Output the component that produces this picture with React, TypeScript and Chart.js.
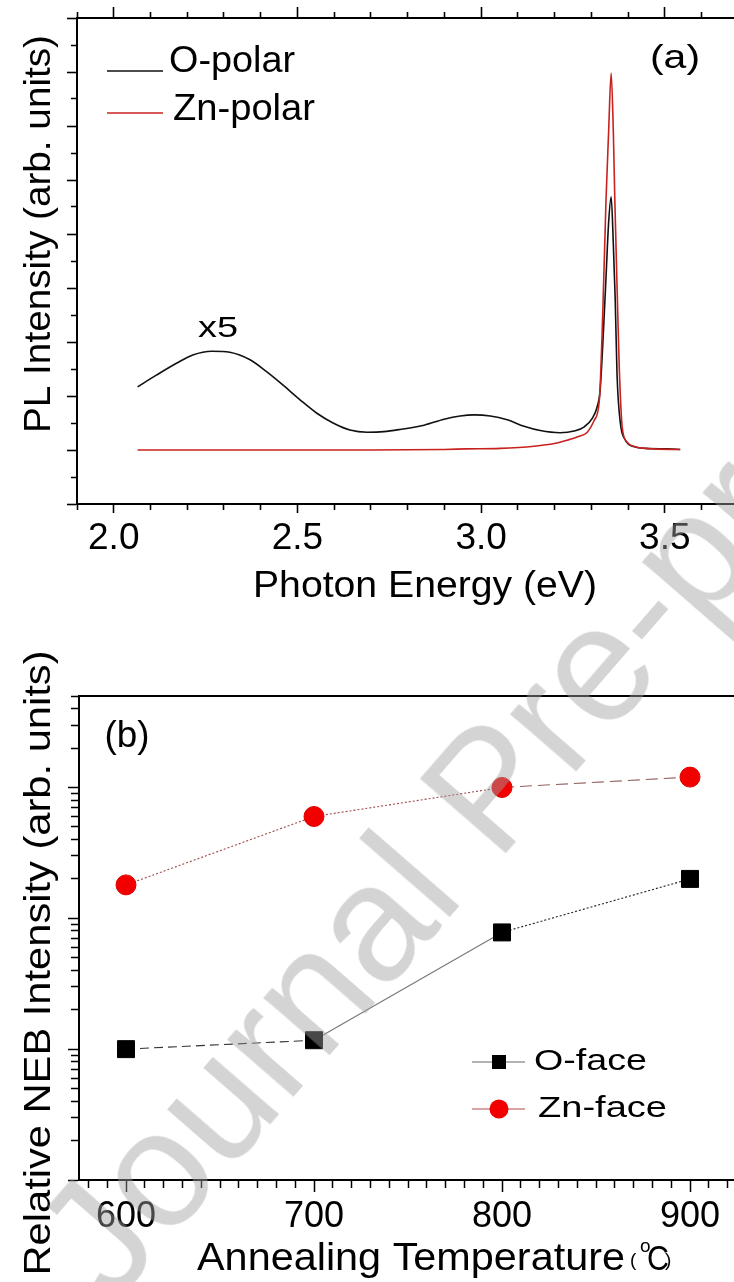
import React, { useEffect, useRef } from "react";
import { Chart, registerables } from "chart.js";

Chart.register(...registerables);

// (a) room-temperature PL spectra: photon energy (eV) vs intensity (arb. units)
const oPolarEnergy = [2.065, 2.117, 2.172, 2.215, 2.267, 2.316, 2.371, 2.416, 2.461, 2.507, 2.553, 2.597, 2.643, 2.69, 2.735, 2.779, 2.845, 2.899, 2.943, 2.981, 3.025, 3.071, 3.117, 3.161, 3.215, 3.253, 3.281, 3.303, 3.316, 3.324, 3.333, 3.34, 3.347, 3.354, 3.36, 3.365, 3.37, 3.379, 3.392, 3.417, 3.45, 3.507, 3.542];
const oPolarIntensity = [1.17, 1.39, 1.61, 1.76, 1.83, 1.81, 1.67, 1.45, 1.2, 0.93, 0.68, 0.5, 0.37, 0.33, 0.34, 0.38, 0.46, 0.57, 0.63, 0.65, 0.63, 0.56, 0.44, 0.36, 0.32, 0.35, 0.43, 0.59, 0.8, 1.11, 2.2, 3.2, 4.2, 4.69, 3.8, 2.8, 1.4, 0.5, 0.19, 0.06, 0.03, 0.02, 0.01];
const znPolarEnergy = [2.065, 2.3, 2.5, 2.7, 2.9, 2.96, 3.052, 3.144, 3.2, 3.234, 3.265, 3.289, 3.308, 3.322, 3.331, 3.34, 3.347, 3.354, 3.36, 3.364, 3.371, 3.376, 3.384, 3.397, 3.415, 3.433, 3.47, 3.542];
const znPolarIntensity = [0, 0, 0, 0, 0.01, 0.02, 0.03, 0.07, 0.12, 0.18, 0.25, 0.33, 0.55, 0.93, 2.5, 4.63, 5.87, 6.98, 5.87, 4.63, 2.78, 1.54, 0.43, 0.15, 0.07, 0.04, 0.02, 0.01];
const spectraSeries = ["O-polar", "Zn-polar"];
const energyLabels = ["2.0", "2.5", "3.0", "3.5"];

// (b) relative NEB intensity vs annealing temperature (°C), log axis
const annealTemps = [600, 700, 800, 900];
const oFaceNeb = [1.0, 1.17, 7.8, 20];
const znFaceNeb = [18, 60, 100, 120];
const faceSeries = ["O-face", "Zn-face"];
const tempLabels = ["600", "700", "800", "900"];

const SANS = '"Liberation Sans", Arial, Helvetica, sans-serif';

type TextOpts = {
  size: number;
  width?: number;
  align?: CanvasTextAlign;
  rotate?: number;
  color?: string;
};

// Draws a string, optionally stretched along its direction to a given length.
function drawText(ctx: CanvasRenderingContext2D, text: string, x: number, y: number, o: TextOpts) {
  ctx.save();
  ctx.font = `${o.size}px ${SANS}`;
  const natural = ctx.measureText(text).width;
  const sx = o.width ? o.width / natural : 1;
  ctx.translate(x, y);
  if (o.rotate) ctx.rotate(o.rotate);
  ctx.scale(sx, 1);
  ctx.textAlign = o.align ?? "left";
  ctx.textBaseline = "alphabetic";
  ctx.fillStyle = o.color ?? "#000";
  ctx.fillText(text, 0, 0);
  ctx.restore();
}

const near = (a: number, b: number) => Math.abs(a - b) < 1e-6;
const isHalfStep = (v: number) => near(v * 2, Math.round(v * 2));
const isDecade = (v: number) => near(Math.log10(v), Math.round(Math.log10(v)));

// minor tick marks are drawn as the axis-side part of a full-length tick
const minorFromOuter = (tl: number, len: number) => [0, tl - 1 - len, len, 300];
const minorFromAxis = (len: number) => [len, 300];

export default function App() {
  const refA = useRef<HTMLCanvasElement>(null);
  const refB = useRef<HTMLCanvasElement>(null);

  useEffect(() => {
    const energyTicks: number[] = [];
    for (let i = 19; i <= 38; i++) energyTicks.push(i / 10);
    const intensityTicks: number[] = [];
    for (let i = -2; i <= 16; i++) intensityTicks.push(i / 2);

    const tempTicks: number[] = [];
    for (let t = 580; t <= 940; t += 10) tempTicks.push(t);
    const nebTicks: number[] = [];
    [0.1, 1, 10, 100].forEach((d) => {
      for (let k = 1; k <= 9; k++) if (d * k <= 500 + 1e-9) nebTicks.push(d * k);
    });

    const colorO = "#111111";
    const colorZn = "#c8221f";

    const decorA = {
      id: "decorA",
      afterDraw(chart: Chart) {
        const ctx = chart.ctx;
        // legend
        const rows = [
          { name: spectraSeries[0], color: colorO, lineY: 71, textX: 169, base: 72, width: 126 },
          { name: spectraSeries[1], color: colorZn, lineY: 113, textX: 173, base: 120, width: 142 },
        ];
        rows.forEach((r) => {
          ctx.save();
          ctx.strokeStyle = r.color;
          ctx.lineWidth = 1.6;
          ctx.beginPath();
          ctx.moveTo(107, r.lineY);
          ctx.lineTo(163, r.lineY);
          ctx.stroke();
          ctx.restore();
          drawText(ctx, r.name, r.textX, r.base, { size: 36, width: r.width });
        });
        drawText(ctx, "(a)", 675, 68, { size: 34, width: 50, align: "center" });
        drawText(ctx, "x5", 218, 337, { size: 30, width: 40, align: "center" });
        // axis titles
        drawText(ctx, "Photon Energy (eV)", 425, 597, { size: 37, width: 344, align: "center" });
        drawText(ctx, "PL Intensity (arb. units)", 50, 234, {
          size: 37,
          width: 398,
          align: "center",
          rotate: -Math.PI / 2,
        });
      },
    };

    const OY = 630; // page offset of the lower canvas
    const decorB = {
      id: "decorB",
      afterDraw(chart: Chart) {
        const ctx = chart.ctx;
        drawText(ctx, "(b)", 127, 747 - OY, { size: 37, width: 45, align: "center" });
        // legend
        ctx.save();
        ctx.lineWidth = 1;
        ctx.strokeStyle = "#666";
        ctx.beginPath();
        ctx.moveTo(472, 1062 - OY);
        ctx.lineTo(525, 1062 - OY);
        ctx.stroke();
        ctx.strokeStyle = "#b04a4a";
        ctx.beginPath();
        ctx.moveTo(472, 1109 - OY);
        ctx.lineTo(525, 1109 - OY);
        ctx.stroke();
        ctx.fillStyle = "#000";
        ctx.fillRect(499 - 7, 1062 - OY - 7, 14, 14);
        ctx.fillStyle = "#f20000";
        ctx.beginPath();
        ctx.arc(499, 1109 - OY, 9.5, 0, Math.PI * 2);
        ctx.fill();
        ctx.restore();
        drawText(ctx, faceSeries[0], 534, 1070 - OY, { size: 30, width: 113 });
        drawText(ctx, faceSeries[1], 538, 1117 - OY, { size: 30, width: 129 });
        // axis titles
        drawText(ctx, "Annealing Temperature", 197, 1270 - OY, { size: 38, width: 428 });
        drawText(ctx, "(", 630, 1266 - OY, { size: 19 });
        drawText(ctx, "o", 640, 1252 - OY, { size: 19 });
        drawText(ctx, "C", 647, 1270 - OY, { size: 35, width: 22 });
        drawText(ctx, ")", 665, 1266 - OY, { size: 19 });
        drawText(ctx, "Relative NEB Intensity (arb. units)", 50, 963 - OY, {
          size: 37,
          width: 625,
          align: "center",
          rotate: -Math.PI / 2,
        });
      },
    };

    const axisBorder = { display: true, color: "#000", width: 2 };

    const chartA = new Chart(refA.current!, {
      type: "line",
      data: {
        datasets: [
          {
            label: spectraSeries[1],
            data: znPolarEnergy.map((e, i) => ({ x: e, y: znPolarIntensity[i] })),
            borderColor: colorZn,
            borderWidth: 1.6,
            pointRadius: 0,
            cubicInterpolationMode: "monotone",
            order: 0,
          },
          {
            label: spectraSeries[0],
            data: oPolarEnergy.map((e, i) => ({ x: e, y: oPolarIntensity[i] })),
            borderColor: colorO,
            borderWidth: 1.6,
            pointRadius: 0,
            cubicInterpolationMode: "monotone",
            order: 1,
          },
        ],
      },
      options: {
        animation: false,
        responsive: false,
        devicePixelRatio: 1,
        events: [],
        layout: { autoPadding: false, padding: { left: 67, top: 7, right: 25, bottom: 64 } },
        plugins: { legend: { display: false }, tooltip: { enabled: false } },
        scales: {
          x: {
            type: "linear",
            position: "bottom",
            min: 1.9,
            max: 3.8,
            afterBuildTicks: (s: any) => {
              s.ticks = energyTicks.map((v) => ({ value: v }));
            },
            afterFit: (s: any) => {
              s.height = 62;
            },
            border: axisBorder,
            grid: {
              display: true,
              drawOnChartArea: false,
              drawTicks: true,
              tickLength: 9,
              tickWidth: 1.6,
              tickColor: "#000",
              tickBorderDash: (c: any) => (isHalfStep(c.tick.value) ? [] : minorFromAxis(5)),
            },
            ticks: {
              autoSkip: false,
              maxRotation: 0,
              minRotation: 0,
              padding: 4,
              color: "#000",
              font: { family: SANS, size: 37 },
              callback: (v: any) => energyLabels.find((l) => near(Number(l), Number(v))) ?? "",
            },
          },
          xTop: {
            type: "linear",
            position: "top",
            min: 1.9,
            max: 3.8,
            afterBuildTicks: (s: any) => {
              s.ticks = energyTicks.map((v) => ({ value: v }));
            },
            afterFit: (s: any) => {
              s.height = 11;
            },
            border: axisBorder,
            grid: {
              display: true,
              drawOnChartArea: false,
              drawTicks: true,
              tickLength: 11,
              tickWidth: 1.6,
              tickColor: "#000",
              tickBorderDash: (c: any) => (isHalfStep(c.tick.value) ? [] : minorFromOuter(11, 5)),
            },
            ticks: { display: false },
          },
          y: {
            type: "linear",
            position: "left",
            min: -1,
            max: 8,
            afterBuildTicks: (s: any) => {
              s.ticks = intensityTicks.map((v) => ({ value: v }));
            },
            afterFit: (s: any) => {
              s.width = 10;
            },
            border: axisBorder,
            grid: {
              display: true,
              drawOnChartArea: false,
              drawTicks: true,
              tickLength: 10,
              tickWidth: 1.6,
              tickColor: "#000",
              tickBorderDash: (c: any) => (Number.isInteger(c.tick.value) ? [] : minorFromOuter(10, 5)),
            },
            ticks: { display: false },
          },
        },
      } as any,
      plugins: [decorA],
    });

    const oSegDash = [[9, 5], [], [2, 2]];
    const oSegColor = ["#333", "#777", "#222"];
    const znSegDash = [[2, 2], [2, 2], [12, 6]];
    const znSegColor = ["#a04848", "#a04848", "#946060"];

    const chartB = new Chart(refB.current!, {
      type: "line",
      data: {
        datasets: [
          {
            label: faceSeries[0],
            data: annealTemps.map((t, i) => ({ x: t, y: oFaceNeb[i] })),
            borderColor: "#555",
            borderWidth: 1.1,
            segment: {
              borderDash: (c: any) => oSegDash[c.p0DataIndex],
              borderColor: (c: any) => oSegColor[c.p0DataIndex],
            },
            pointStyle: "rect",
            pointRadius: 12,
            pointBackgroundColor: "#000",
            pointBorderColor: "#000",
            pointBorderWidth: 1,
          },
          {
            label: faceSeries[1],
            data: annealTemps.map((t, i) => ({ x: t, y: znFaceNeb[i] })),
            borderColor: "#a04848",
            borderWidth: 1.1,
            segment: {
              borderDash: (c: any) => znSegDash[c.p0DataIndex],
              borderColor: (c: any) => znSegColor[c.p0DataIndex],
            },
            pointStyle: "circle",
            pointRadius: 10,
            pointBackgroundColor: "#f20000",
            pointBorderColor: "#e00000",
            pointBorderWidth: 1,
          },
        ],
      },
      options: {
        animation: false,
        responsive: false,
        devicePixelRatio: 1,
        events: [],
        layout: { autoPadding: false, padding: { left: 67, top: 66, right: 36, bottom: 32 } },
        plugins: { legend: { display: false }, tooltip: { enabled: false } },
        scales: {
          x: {
            type: "linear",
            position: "bottom",
            min: 575,
            max: 950,
            afterBuildTicks: (s: any) => {
              s.ticks = tempTicks.map((v) => ({ value: v }));
            },
            afterFit: (s: any) => {
              s.height = 70;
            },
            border: axisBorder,
            grid: {
              display: true,
              drawOnChartArea: false,
              drawTicks: true,
              tickLength: 12,
              tickWidth: 1.5,
              tickColor: "#000",
              tickBorderDash: (c: any) => (c.tick.value % 100 === 0 ? [] : minorFromAxis(7)),
            },
            ticks: {
              autoSkip: false,
              maxRotation: 0,
              minRotation: 0,
              padding: 3,
              color: "#000",
              font: { family: SANS, size: 36 },
              callback: (v: any) => tempLabels.find((l) => Number(l) === Number(v)) ?? "",
            },
          },
          xTop: {
            type: "linear",
            position: "top",
            min: 575,
            max: 950,
            afterFit: (s: any) => {
              s.height = 0;
            },
            border: axisBorder,
            grid: { display: true, drawOnChartArea: false, drawTicks: false },
            ticks: { display: false },
          },
          y: {
            type: "logarithmic",
            position: "left",
            min: 0.1,
            max: 500,
            afterBuildTicks: (s: any) => {
              s.ticks = nebTicks.map((v) => ({ value: v }));
            },
            afterFit: (s: any) => {
              s.width = 12;
            },
            border: axisBorder,
            grid: {
              display: true,
              drawOnChartArea: false,
              drawTicks: true,
              tickLength: 11,
              tickWidth: 1.5,
              tickColor: "#000",
              tickBorderDash: (c: any) => (isDecade(c.tick.value) ? [] : minorFromOuter(11, 7)),
            },
            ticks: { display: false },
          },
        },
      } as any,
      plugins: [decorB],
    });

    return () => {
      chartA.destroy();
      chartB.destroy();
    };
  }, []);

  return (
    <div
      style={{
        position: "absolute",
        left: 0,
        top: 0,
        width: 734,
        height: 1282,
        overflow: "hidden",
        background: "#fff",
      }}
    >
      <canvas ref={refA} width={800} height={630} style={{ position: "absolute", left: 0, top: 0 }} />
      <canvas ref={refB} width={820} height={652} style={{ position: "absolute", left: 0, top: 630 }} />
      <div
        style={{
          position: "absolute",
          left: 487,
          top: 788,
          transform: "translate(-50%, -50%) rotate(-49deg)",
          font: `165px ${SANS}`,
          color: "rgba(160,160,160,0.45)",
          whiteSpace: "nowrap",
          lineHeight: 1,
          pointerEvents: "none",
        }}
      >
        Journal Pre-proof
      </div>
    </div>
  );
}
